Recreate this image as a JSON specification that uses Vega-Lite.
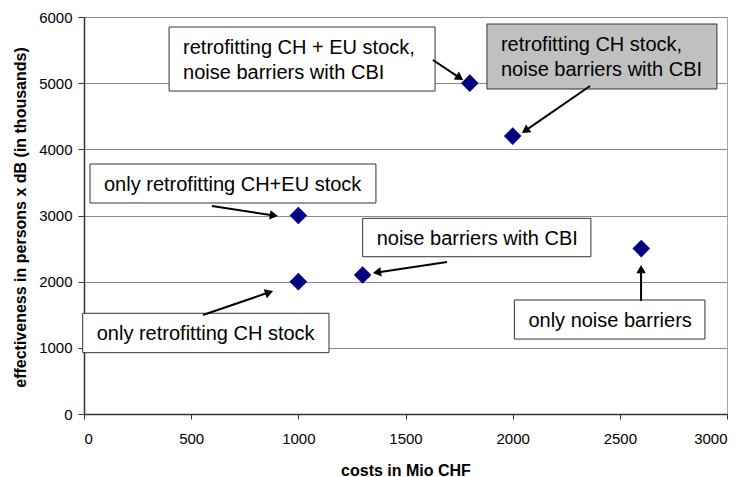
{
  "$schema": "https://vega.github.io/schema/vega-lite/v6.json",
  "width": 643,
  "height": 397,
  "autosize": "none",
  "padding": {"left": 84, "top": 17, "right": 19, "bottom": 63},
  "background": "white",
  "config": {
    "view": {"stroke": null},
    "font": "Liberation Sans",
    "axis": {
      "labelFont": "Liberation Sans",
      "labelFontSize": 15,
      "labelColor": "#000000",
      "titleFont": "Liberation Sans",
      "titleFontSize": 16,
      "titleFontWeight": "bold",
      "titleColor": "#000000",
      "domainColor": "#333333",
      "domainWidth": 1.5,
      "tickColor": "#333333",
      "gridColor": "#8a8a8a",
      "gridWidth": 1,
      "format": "d"
    }
  },
  "datasets": {
    "points": [
      {"cost": 1800, "eff": 5000},
      {"cost": 2000, "eff": 4200},
      {"cost": 1000, "eff": 3000},
      {"cost": 1000, "eff": 2000},
      {"cost": 1300, "eff": 2100},
      {"cost": 2600, "eff": 2500}
    ],
    "notes": [
      {"label": "retrofitting CH + EU stock,\nnoise barriers with CBI", "x1": 397, "x2": 1638, "y1": 5849, "y2": 4881, "ax1": 1628, "ay1": 5350, "ax2": 1753, "ay2": 5081},
      {"label": "retrofitting CH stock,\nnoise barriers with CBI", "x1": 1880, "x2": 2953, "y1": 5894, "y2": 4912, "ax1": 2361, "ay1": 4957, "ax2": 2059, "ay2": 4282},
      {"label": "only retrofitting CH+EU stock", "x1": 28, "x2": 1362, "y1": 3778, "y2": 3189, "ax1": 597, "ay1": 3144, "ax2": 886, "ay2": 3001},
      {"label": "noise barriers with CBI", "x1": 1300, "x2": 2365, "y1": 2957, "y2": 2377, "ax1": 1694, "ay1": 2297, "ax2": 1367, "ay2": 2140},
      {"label": "only retrofitting CH stock", "x1": -6, "x2": 1143, "y1": 1522, "y2": 927, "ax1": 555, "ay1": 1496, "ax2": 864, "ay2": 1839},
      {"label": "only noise barriers", "x1": 2008, "x2": 2897, "y1": 1723, "y2": 1133, "ax1": 2599, "ay1": 1708, "ax2": 2599, "ay2": 2191}
    ]
  },
  "layer": [
    {
      "data": {"name": "points"},
      "mark": {"type": "point", "shape": "diamond", "filled": true, "size": 310, "color": "#000080", "opacity": 1},
      "encoding": {
        "x": {"field": "cost", "type": "quantitative", "title": "costs in Mio CHF",
              "scale": {"domain": [0, 3000], "nice": false},
              "axis": {"values": [0, 500, 1000, 1500, 2000, 2500, 3000], "grid": true,
                       "gridColor": {"condition": {"test": "datum.value === 3000", "value": "#a6a6a6"}, "value": "transparent"},
                       "tickSize": 5, "labelPadding": 12, "titleY": 61, "titleBaseline": "alphabetic"}},
        "y": {"field": "eff", "type": "quantitative", "title": "effectiveness in persons x dB (in thousands)",
              "scale": {"domain": [0, 6000], "nice": false},
              "axis": {"values": [0, 1000, 2000, 3000, 4000, 5000, 6000], "grid": true, "tickSize": 6, "labelPadding": 6, "titleX": -59, "titleY": 200, "titleBaseline": "alphabetic"}}
      }
    },
    {
      "data": {"name": "notes"},
      "mark": {"type": "rect", "stroke": "#333333", "strokeWidth": 1},
      "encoding": {
        "x": {"field": "x1", "type": "quantitative", "title": "costs in Mio CHF", "scale": {"domain": [0, 3000], "nice": false}},
        "x2": {"field": "x2"},
        "y": {"field": "y1", "type": "quantitative", "title": "effectiveness in persons x dB (in thousands)", "scale": {"domain": [0, 6000], "nice": false}},
        "y2": {"field": "y2"},
        "fill": {"field": "label", "type": "nominal", "legend": null,
                 "scale": {"domain": ["retrofitting CH + EU stock,\nnoise barriers with CBI", "retrofitting CH stock,\nnoise barriers with CBI", "only retrofitting CH+EU stock", "noise barriers with CBI", "only retrofitting CH stock", "only noise barriers"],
                           "range": ["#ffffff", "#c0c0c0", "#ffffff", "#ffffff", "#ffffff", "#ffffff"]}}
      }
    },
    {
      "data": {"name": "notes"},
      "mark": {"type": "text", "align": "left", "baseline": "top", "dx": 14, "dy": 11, "fontSize": 20, "lineHeight": 25, "lineBreak": "\n", "font": "Liberation Sans", "color": "#000000"},
      "encoding": {
        "x": {"field": "x1", "type": "quantitative", "title": "costs in Mio CHF", "scale": {"domain": [0, 3000], "nice": false}},
        "y": {"field": "y1", "type": "quantitative", "title": "effectiveness in persons x dB (in thousands)", "scale": {"domain": [0, 6000], "nice": false}},
        "text": {"field": "label"}
      }
    },
    {
      "data": {"name": "notes"},
      "mark": {"type": "rule", "color": "#000000", "strokeWidth": 2},
      "encoding": {
        "x": {"field": "ax1", "type": "quantitative", "title": "costs in Mio CHF", "scale": {"domain": [0, 3000], "nice": false}},
        "x2": {"field": "ax2"},
        "y": {"field": "ay1", "type": "quantitative", "title": "effectiveness in persons x dB (in thousands)", "scale": {"domain": [0, 6000], "nice": false}},
        "y2": {"field": "ay2"}
      }
    },
    {
      "data": {"name": "notes"},
      "mark": {"type": "point", "shape": "triangle-up", "filled": true, "size": 90, "color": "#000000", "opacity": 1},
      "encoding": {
        "x": {"field": "ax2", "type": "quantitative", "title": "costs in Mio CHF", "scale": {"domain": [0, 3000], "nice": false}},
        "y": {"field": "ay2", "type": "quantitative", "title": "effectiveness in persons x dB (in thousands)", "scale": {"domain": [0, 6000], "nice": false}},
        "angle": {"field": "label", "type": "nominal", "legend": null,
                  "scale": {"type": "ordinal", "domain": ["retrofitting CH + EU stock,\nnoise barriers with CBI", "retrofitting CH stock,\nnoise barriers with CBI", "only retrofitting CH+EU stock", "noise barriers with CBI", "only retrofitting CH stock", "only noise barriers"],
                            "range": [123.7, 235.4, 98.6, 261.5, 71.1, 0]}}
      }
    }
  ]
}
